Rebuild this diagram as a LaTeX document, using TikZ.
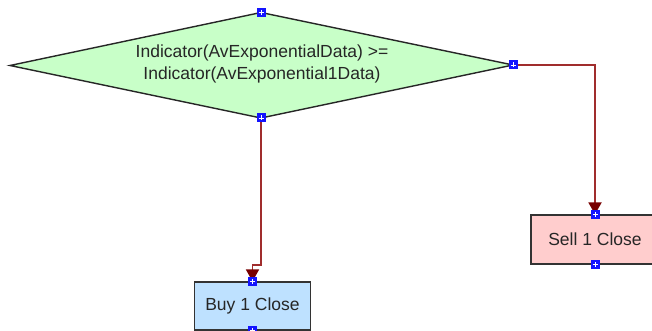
\documentclass[tikz,border=0pt]{standalone}
\usepackage{fontspec}
\setmainfont{Liberation Sans}
\usetikzlibrary{arrows.meta}
\definecolor{decfill}{RGB}{200,255,200}
\definecolor{buyfill}{RGB}{190,225,255}
\definecolor{sellfill}{RGB}{255,205,205}
\definecolor{wire}{RGB}{160,45,45}
\definecolor{tipred}{RGB}{120,0,0}
\definecolor{handleblue}{RGB}{20,20,255}
\tikzset{
  x=1pt, y=-1pt,
  every node/.style={font=\fontsize{17.5}{22}\selectfont, text=black!85},
  decisionedge/.style={draw=black!85, line width=1.4pt, fill=decfill, line join=miter},
  action/.style={rectangle, draw=black!80, line width=1.2pt, inner sep=0pt},
  flow/.style={draw=wire, line width=1.8pt,
    -{Triangle[length=12pt,width=13pt,fill=tipred,color=tipred]}},
  handle/.pic={
    \fill[handleblue] (-4.5,-4.5) rectangle (4.5,4.5);
    \draw[white, line width=0.8pt] (-2.5,0) -- (2.5,0) (0,-2.5) -- (0,2.5);
  }
}
\begin{document}
\begin{tikzpicture}
  \useasboundingbox (0,0) rectangle (652,331);
  \clip (0,0) rectangle (652,331);
  \fill[white] (0,0) rectangle (652,331);

  % condition: a flat diamond
  \coordinate (dtop)   at (261,12.5);
  \coordinate (dright) at (513,65);
  \coordinate (dbot)   at (261,118);
  \coordinate (dleft)  at (10,65.5);
  \path[decisionedge] (dtop) -- (dright) -- (dbot) -- (dleft) -- cycle;
  \node[align=center, inner sep=0pt] (cond) at (262,64) {Indicator(AvExponentialData) >=\\Indicator(AvExponential1Data)};

  % actions
  \node[action, fill=buyfill, minimum width=116pt, minimum height=48pt] (buy) at (252.5,306) {Buy 1 Close};
  \node[action, fill=sellfill, minimum width=128pt, minimum height=49pt] (sell) at (595,239.5) {Sell 1 Close};

  % connectors
  \coordinate (bend1) at (261,265);
  \draw[flow] (dbot) -- (bend1) -| (buy.north);
  \draw[flow] (dright) -| (sell.north);

  % connection handles
  \pic at (dtop) {handle};
  \pic at (dbot) {handle};
  \pic at (dright) {handle};
  \pic at (buy.north) {handle};
  \pic at (buy.south) {handle};
  \pic at (sell.north) {handle};
  \pic at (sell.south) {handle};
\end{tikzpicture}
\end{document}
